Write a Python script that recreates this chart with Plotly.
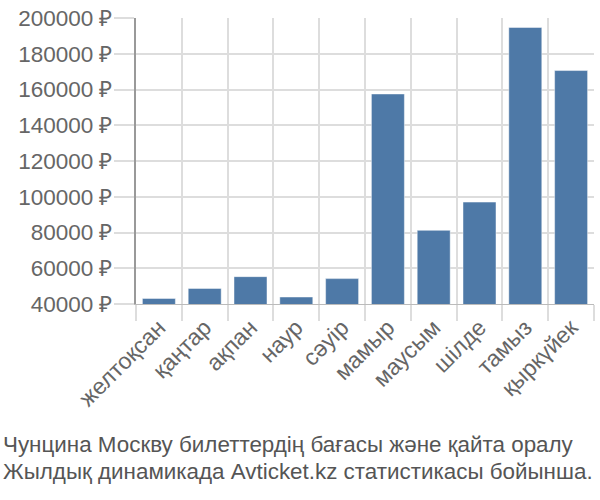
import plotly.graph_objects as go

months = ["желтоқсан", "қаңтар", "ақпан", "наур", "сәуір", "мамыр",
          "маусым", "шілде", "тамыз", "қыркүйек"]
prices = [43100, 48700, 55300, 43900, 54200, 157500, 81200, 97000, 194700, 170600]
y_ticks = [40000, 60000, 80000, 100000, 120000, 140000, 160000, 180000, 200000]
title_lines = ["Чунцина Москву билеттердің бағасы және қайта оралу",
               "Жылдық динамикада Avticket.kz статистикасы бойынша."]

FONT = "Liberation Sans"
GRID = "#dddddd"
TXT = "#666666"

fig = go.Figure(go.Bar(
    x=months, y=prices,
    marker=dict(color="#4e79a7", line=dict(color="rgba(255,255,255,0.45)", width=1)),
    width=0.72,
))

fig.update_layout(
    width=600, height=500,
    margin=dict(l=136, r=6, t=14, b=196),
    plot_bgcolor="white", paper_bgcolor="white",
    showlegend=False,
    font=dict(family=FONT, color=TXT, size=22),
)
fig.update_xaxes(
    type="category",
    tickson="boundaries",
    ticks="outside", ticklen=16, tickcolor=GRID, tickwidth=2,
    showgrid=True, gridcolor=GRID, gridwidth=2,
    showline=True, linecolor="#bbbbbb", linewidth=1,
    tickangle=-45,
    tickfont=dict(family=FONT, size=23, color=TXT),
)
fig.update_yaxes(
    range=[40000, 200000],
    tickvals=y_ticks,
    ticktext=[f"{v} ₽" for v in y_ticks],
    ticks="outside", ticklen=20, tickcolor=GRID, tickwidth=2,
    ticklabelstandoff=-3,
    showgrid=True, gridcolor=GRID, gridwidth=2,
    showline=True, linecolor="#999999", linewidth=2,
    zeroline=False,
    tickfont=dict(family=FONT, size=22.5, color=TXT),
)

for line, py in zip(title_lines, [446, 474]):
    fig.add_annotation(
        text=line,
        xref="paper", yref="paper", x=-135/458, y=(304 - py) / 290,
        xanchor="left", yanchor="middle",
        showarrow=False, align="left",
        font=dict(family=FONT, size=22.4, color="#555555"),
    )

fig.write_html("out.html")
